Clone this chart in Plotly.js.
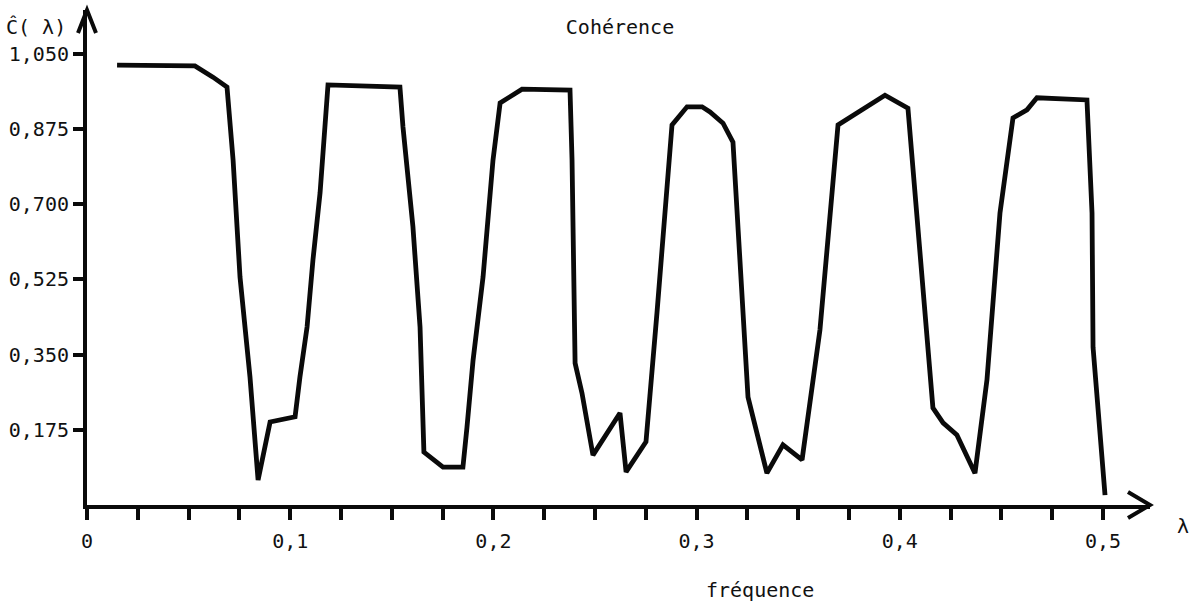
<!DOCTYPE html>
<html>
<head>
<meta charset="utf-8">
<script src="https://cdn.plot.ly/plotly-3.0.1.min.js"></script>
<style>html,body{margin:0;padding:0;background:#fff;}#chart{width:1200px;height:604px;}</style>
</head>
<body>
<div id="chart"></div>
<script>
// Data (frequency λ, estimated coherence Ĉ(λ))
const frequence = [0.0148,0.0531,0.0620,0.0689,0.0719,0.0753,0.0802,0.0842,0.0901,0.1024,0.1048,0.1083,0.1112,0.1147,0.1186,0.1540,0.1555,0.1604,0.1639,0.1658,0.1752,0.1850,0.1870,0.1900,0.1949,0.1998,0.2033,0.2141,0.2377,0.2387,0.2402,0.2436,0.2490,0.2623,0.2653,0.2751,0.2805,0.2879,0.2953,0.3027,0.3066,0.3130,0.3179,0.3214,0.3253,0.3346,0.3425,0.3519,0.3607,0.3696,0.3770,0.3927,0.4040,0.4099,0.4163,0.4213,0.4281,0.4370,0.4429,0.4493,0.4557,0.4626,0.4675,0.4921,0.4946,0.4951,0.5010];
const coherence = [1.023,1.021,0.995,0.972,0.802,0.530,0.298,0.058,0.193,0.205,0.298,0.414,0.570,0.726,0.977,0.972,0.879,0.647,0.414,0.123,0.088,0.088,0.181,0.337,0.530,0.802,0.935,0.967,0.965,0.802,0.330,0.260,0.116,0.214,0.077,0.147,0.447,0.884,0.926,0.926,0.914,0.888,0.844,0.553,0.251,0.074,0.140,0.105,0.407,0.884,0.907,0.953,0.923,0.600,0.226,0.191,0.163,0.074,0.291,0.679,0.900,0.919,0.947,0.942,0.679,0.367,0.023];

const xTickVals = [0,0.025,0.05,0.075,0.1,0.125,0.15,0.175,0.2,0.225,0.25,0.275,0.3,0.325,0.35,0.375,0.4,0.425,0.45,0.475,0.5];
const xTickText = ['0','','','','0,1','','','','0,2','','','','0,3','','','','0,4','','','','0,5'];
const yTickVals = [0.175,0.35,0.525,0.7,0.875,1.05];
const yTickText = ['0,175','0,350','0,525','0,700','0,875','1,050'];

// layout geometry (pixels)
const L = 87, T = 10, W = 1063, H = 495;
const FW = 1200, FH = 604;
const xMax = W / 2032, yMax = H / 430;
const px = x => (x - L) / W;       // pixel -> paper x
const py = y => (T + H - y) / H;   // pixel -> paper y

const font = {family: 'DejaVu Sans Mono, Liberation Mono, monospace', size: 20, color: '#111'};

const trace = {
  x: frequence, y: coherence, type: 'scatter', mode: 'lines',
  line: {color: '#0a0a0a', width: 4.8, shape: 'linear'},
  hoverinfo: 'skip', cliponaxis: false
};

const layout = {
  width: FW, height: FH,
  margin: {l: L, r: FW - L - W, t: T, b: FH - T - H, pad: 0},
  paper_bgcolor: '#fff', plot_bgcolor: '#fff',
  showlegend: false,
  font: font,
  title: {text: 'Cohérence', font: font, xref: 'paper', x: px(620), xanchor: 'center', yref: 'container', y: 1 - 27 / FH, yanchor: 'middle'},
  xaxis: {
    range: [0, xMax], showgrid: false, zeroline: false,
    showline: true, linecolor: '#0a0a0a', linewidth: 4,
    tickmode: 'array', tickvals: xTickVals, ticktext: xTickText,
    ticks: 'outside', ticklen: 11, tickwidth: 4, tickcolor: '#0a0a0a',
    ticklabelstandoff: 4, tickfont: font, fixedrange: true
  },
  yaxis: {
    range: [0, yMax], showgrid: false, zeroline: false,
    showline: true, linecolor: '#0a0a0a', linewidth: 4,
    tickmode: 'array', tickvals: yTickVals, ticktext: yTickText,
    ticks: 'outside', ticklen: 10, tickwidth: 4, tickcolor: '#0a0a0a',
    ticklabelstandoff: 0, tickfont: font, fixedrange: true
  },
  shapes: [
    // arrowhead of vertical axis
    {type: 'path', xref: 'paper', yref: 'paper',
     path: `M ${px(L - 9)} ${py(T + 23)} L ${px(L)} ${py(T)} L ${px(L + 9)} ${py(T + 23)}`,
     line: {color: '#0a0a0a', width: 4}},
    // arrowhead of horizontal axis
    {type: 'path', xref: 'paper', yref: 'paper',
     path: `M ${px(L + W - 22)} ${py(T + H - 13)} L ${px(L + W)} ${py(T + H)} L ${px(L + W - 22)} ${py(T + H + 13)}`,
     line: {color: '#0a0a0a', width: 4}}
  ],
  annotations: [
    {text: 'Ĉ( λ)', xref: 'paper', yref: 'paper', x: px(36), y: py(27), xanchor: 'center', yanchor: 'middle', showarrow: false, font: font},
    {text: 'λ', xref: 'paper', yref: 'paper', x: px(1183), y: py(526), xanchor: 'center', yanchor: 'middle', showarrow: false, font: font},
    {text: 'fréquence', xref: 'paper', yref: 'paper', x: px(760), y: py(590), xanchor: 'center', yanchor: 'middle', showarrow: false, font: font}
  ]
};

Plotly.newPlot('chart', [trace], layout, {displayModeBar: false, staticPlot: true});
</script>
</body>
</html>
